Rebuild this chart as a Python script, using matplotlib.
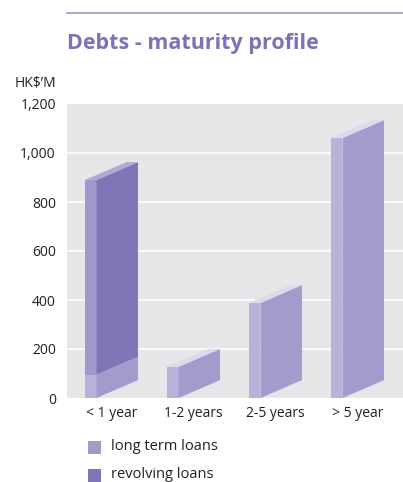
import matplotlib
matplotlib.use('Agg')
import matplotlib.pyplot as plt
from matplotlib.patches import Polygon, Rectangle
from matplotlib.lines import Line2D

# data (HK$'M)
categories = ['< 1 year', '1-2 years', '2-5 years', '> 5 year']
long_term = [95, 127, 388, 1061]
revolving = [795, 0, 0, 0]
yticks = [0, 200, 400, 600, 800, 1000, 1200]
ytick_labels = ['0', '200', '400', '600', '800', '1,000', '1,200']

plt.rcParams['font.family'] = ['Open Sans', 'DejaVu Sans']

W, H = 403, 482
fig = plt.figure(figsize=(W / 100, H / 100), dpi=100)
ax = fig.add_axes([67 / W, (H - 398) / H, (W - 67) / W, (398 - 104) / H])
ax.set_facecolor('#e6e6e8')
ax.set_xlim(-0.543, 3.555)
ax.set_ylim(0, 1200)

# bar geometry (x in category units, rise in data units)
x0, x1, x2 = -0.323, -0.183, 0.323
rise = 73

lt_front, lt_side, lt_top = '#b8b2da', '#a39bcb', '#dcd9ee'
rv_front, rv_side, rv_top = '#a098cc', '#7f76b8', '#b0a9d6'


def block(xc, lo, hi, front, side, top, with_top):
    ax.add_patch(Polygon([(xc + x0, lo), (xc + x1, lo), (xc + x1, hi), (xc + x0, hi)],
                         closed=True, facecolor=front, edgecolor='none', zorder=3))
    ax.add_patch(Polygon([(xc + x1, lo), (xc + x2, lo + rise), (xc + x2, hi + rise), (xc + x1, hi)],
                         closed=True, facecolor=side, edgecolor='none', zorder=3))
    if with_top:
        ax.add_patch(Polygon([(xc + x0, hi), (xc + x1, hi), (xc + x2, hi + rise),
                              (xc + x2 - (x1 - x0), hi + rise)],
                             closed=True, facecolor=top, edgecolor='none', zorder=3))


for i in range(len(categories)):
    block(i, 0, long_term[i], lt_front, lt_side, lt_top, revolving[i] == 0)
    if revolving[i] > 0:
        block(i, long_term[i], long_term[i] + revolving[i], rv_front, rv_side, rv_top, True)

for y in yticks[1:-1]:
    ax.axhline(y, color='white', lw=1.2, zorder=1)

ax.set_yticks(yticks)
ax.set_yticklabels(ytick_labels)
ax.set_xticks(range(len(categories)))
ax.set_xticklabels(categories)
ax.tick_params(length=0, labelsize=10, colors='#231f20', pad=8)
ax.tick_params(axis='x', pad=6)
for s in ax.spines.values():
    s.set_visible(False)

# header
fig.add_artist(Line2D([67 / W, 1], [(H - 13) / H] * 2, color='#9a92c8', lw=1.2))
fig.text(67 / W, (H - 44) / H, 'Debts - maturity profile', fontsize=15.5, fontweight='bold',
         color='#7d72b8', va='center', ha='left')
fig.text(56 / W, (H - 84) / H, "HK$\u2019M", fontsize=10, color='#231f20', va='center', ha='right')

# legend
for j, (lab, col) in enumerate([('long term loans', lt_side), ('revolving loans', rv_side)]):
    yc = 447 + j * 28
    fig.add_artist(Rectangle((88 / W, (H - yc - 6.5) / H), 13 / W, 13 / H,
                             facecolor=col, edgecolor='none'))
    fig.text(111 / W, (H - yc) / H, lab, fontsize=10.5, color='#231f20', va='center', ha='left')

fig.savefig('out.png', dpi=100)
